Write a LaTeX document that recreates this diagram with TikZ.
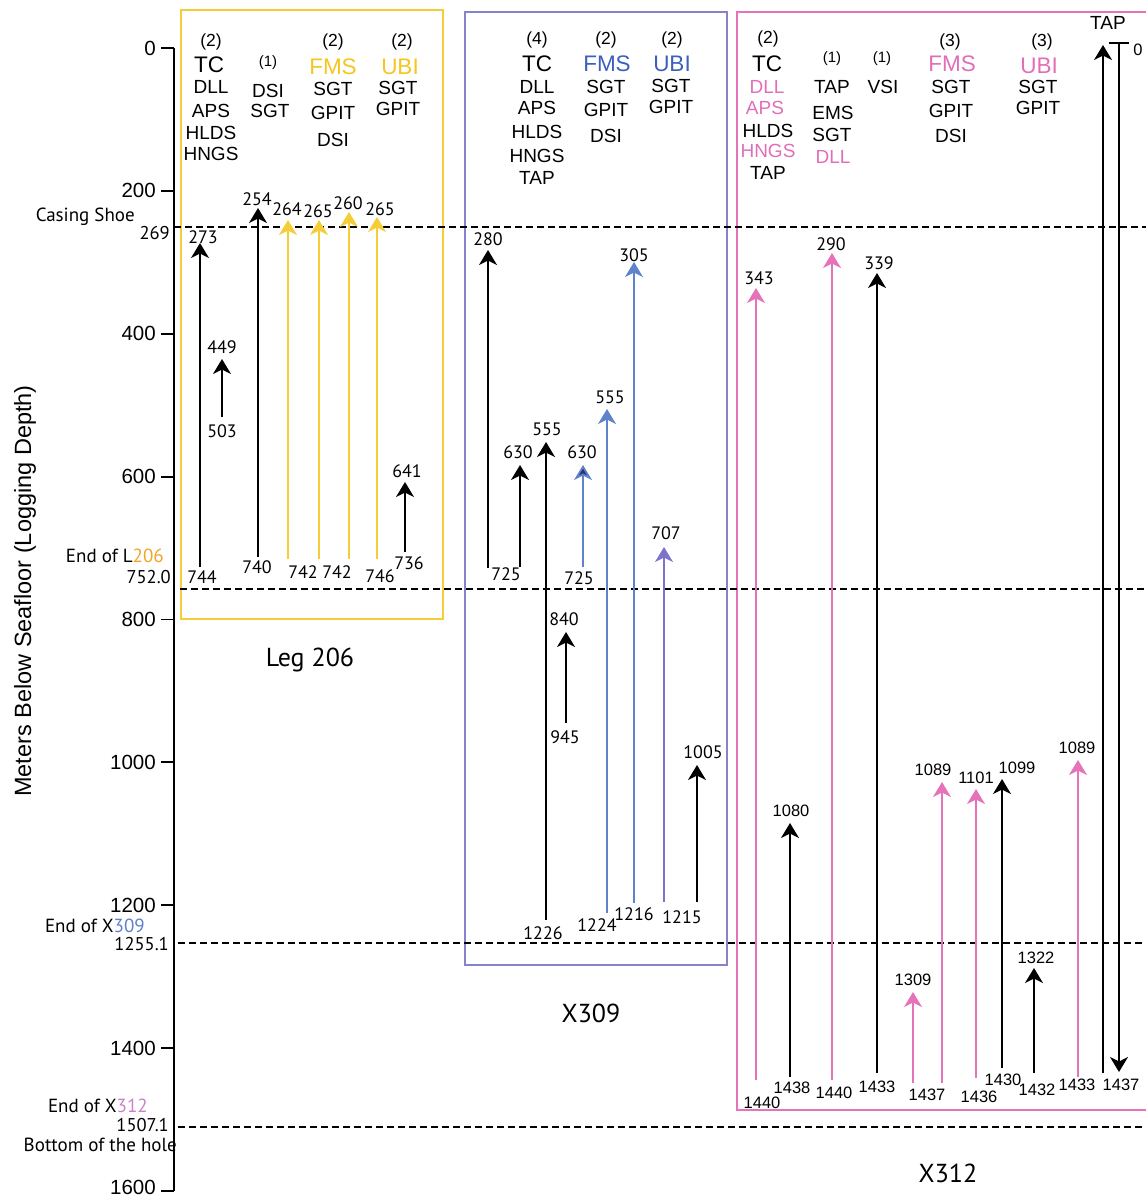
\documentclass[tikz,border=0pt]{standalone}
\usepackage{fontspec}
\setmainfont{Liberation Sans}
\newfontfamily\myr{PT Sans}
\usetikzlibrary{arrows.meta}
\definecolor{goldtxt}{RGB}{245,198,30}
\definecolor{goldln}{RGB}{245,205,55}
\definecolor{orangetxt}{RGB}{240,165,40}
\definecolor{bluebox}{RGB}{135,130,205}
\definecolor{bluetxt}{RGB}{60,95,190}
\definecolor{blueln}{RGB}{95,130,205}
\definecolor{bluedark}{RGB}{45,50,110}
\definecolor{purpln}{RGB}{125,115,205}
\definecolor{pinkln}{RGB}{230,115,185}
\definecolor{pinktxt}{RGB}{225,110,185}
\definecolor{purptxt}{RGB}{200,130,200}
\newcommand\UA[5]{\coordinate (#1b) at (#3,#4);\coordinate (#1t) at (#3,#5);\draw[arr,#2] (#1b) -- (#1t);}
\begin{document}
\begin{tikzpicture}[x=1pt,y=-1pt,
  arr/.style={line width=1.8pt,-{Stealth[length=15pt,width=18pt,inset=4.5pt]}},
  blk/.style={draw=black},
  yel/.style={draw=goldln},
  blu/.style={draw=blueln},
  pur/.style={draw=purpln},
  pnk/.style={draw=pinkln},
  tk/.style={inner sep=0pt,anchor=east,font=\fontsize{20.5}{22}\selectfont},
  hdr/.style={inner sep=0pt,font=\fontsize{22.5}{24}\selectfont},
  tl/.style={inner sep=0pt,font=\fontsize{19}{20}\selectfont},
  cnt/.style={inner sep=0pt,font=\fontsize{17.5}{20}\selectfont},
  cnts/.style={inner sep=0pt,font=\fontsize{15}{18}\selectfont},
  num/.style={inner sep=0pt,font=\myr\fontsize{18}{20}\selectfont},
  numh/.style={inner sep=0pt,font=\fontsize{16.5}{18}\selectfont},
  side/.style={inner sep=0pt,anchor=east,font=\myr\fontsize{19}{21}\selectfont},
  sidenum/.style={inner sep=0pt,anchor=east,font=\myr\fontsize{18.5}{21}\selectfont},
  boxlbl/.style={inner sep=0pt,font=\myr\fontsize{26}{28}\selectfont},
  dsh/.style={line width=1.6pt,dash pattern=on 6.5pt off 4.5pt},
  boxln/.style={line width=1.8pt}]
\useasboundingbox (0,0) rectangle (1146,1197);
\clip (0,0) rectangle (1146,1197);

% boxes
\draw[boxln,goldln] (181,10) rectangle (443,619);
\draw[boxln,bluebox] (465,12) rectangle (727,965);
\draw[boxln,pinkln] (1152,12) -- (737,12) -- (737,1110) -- (1152,1110);

% axis
\coordinate (axtop) at (174,48);
\coordinate (axbot) at (174,1191);
\draw[line width=1.8pt] (axtop) -- (axbot);
\foreach \v [count=\i from 0] in {0,200,400,600,800,1000,1200,1400}{
  \pgfmathsetmacro\yy{48+142.875*\i}
  \draw[line width=1.8pt] (161,\yy) -- (174,\yy);
  \node[tk,name=tick\i] at (156,\yy) {\v};
}
\draw[line width=1.8pt] (161,1191) -- (174,1191);
\node[tk] (tick8) at (156,1187) {1600};
\node[inner sep=0pt,rotate=90,font=\fontsize{23.5}{26}\selectfont] (ylab) at (25,591) {Meters Below Seafloor (Logging Depth)};

% side labels
\node[side] (casing) at (135,217) {Casing Shoe};
\node[sidenum] (c269) at (170,233) {269};
\node[side] (endL) at (164,556) {End of L\textcolor{orangetxt}{206}};
\node[sidenum] (c752) at (171,577) {752.0};
\node[side] (endX309) at (145,926) {End of X\textcolor{bluetxt!80}{309}};
\node[sidenum] (c1255) at (169,944) {1255.1};
\node[side] (endX312) at (148,1106) {End of X\textcolor{purptxt}{312}};
\node[sidenum] (c1507) at (169,1125) {1507.1};
\node[side] (bottom) at (177,1145) {Bottom of the hole};

% dashed lines
\coordinate (d1a) at (174,227); \coordinate (d1b) at (1146,227);
\coordinate (d2a) at (180,589); \coordinate (d2b) at (1146,589);
\coordinate (d3a) at (178,943); \coordinate (d3b) at (1146,943);
\coordinate (d4a) at (178,1127); \coordinate (d4b) at (1146,1127);
\draw[dsh] (d1a) -- (d1b);
\draw[dsh] (d2a) -- (d2b);
\draw[dsh] (d3a) -- (d3b);
\draw[dsh] (d4a) -- (d4b);

% box labels
\node[boxlbl] (leg206) at (310,660) {Leg 206};
\node[boxlbl] (x309) at (591,1013) {X309};
\node[boxlbl] (x312) at (948,1173) {X312};

% ---------- Leg 206 headers
\node[cnt] (l1c) at (211,42) {(2)};
\node[hdr] (l1h) at (209,65) {TC};
\foreach \t/\y [count=\i] in {DLL/87,APS/111,HLDS/133,HNGS/154}
  \node[tl,name=l1t\i] at (211,\y) {\t};
\node[cnts] (l2c) at (268,63) {(1)};
\node[tl] (l2t1) at (268,91) {DSI};
\node[tl] (l2t2) at (270,111) {SGT};
\node[cnt] (l3c) at (333,42) {(2)};
\node[hdr,text=goldtxt] (l3h) at (333,67) {FMS};
\foreach \t/\y [count=\i] in {SGT/89,GPIT/113,DSI/140}
  \node[tl,name=l3t\i] at (333,\y) {\t};
\node[cnt] (l4c) at (402,42) {(2)};
\node[hdr,text=goldtxt] (l4h) at (400,67) {UBI};
\foreach \t/\y [count=\i] in {SGT/88,GPIT/109}
  \node[tl,name=l4t\i] at (398,\y) {\t};

% ---------- Leg 206 arrows
\UA{a1}{blk}{200}{567}{243}
\node[num] (a1top) at (203,237) {273};
\node[num] (a1bot) at (202,577) {744};
\UA{a2}{blk}{222}{417}{359}
\node[num] (a2top) at (222,347) {449};
\node[num] (a2bot) at (222,431) {503};
\UA{a3}{blk}{258}{557}{208}
\node[num] (a3top) at (257,199) {254};
\node[num] (a3bot) at (257,567) {740};
\UA{a4}{yel}{288}{559}{220}
\node[num] (a4top) at (287,209) {264};
\node[num] (a4bot) at (303,572) {742};
\UA{a5}{yel}{319}{559}{220}
\node[num] (a5top) at (318,211) {265};
\node[num] (a5bot) at (337,572) {742};
\UA{a6}{yel}{349}{559}{212}
\node[num] (a6top) at (348,203) {260};
\UA{a7}{yel}{377}{559}{217}
\node[num] (a7top) at (380,209) {265};
\node[num] (a7bot) at (380,576) {746};
\UA{a8}{blk}{405}{552}{482}
\node[num] (a8top) at (407,471) {641};
\node[num] (a8bot) at (409,563) {736};

% ---------- X309 headers
\node[cnt] (m1c) at (537,40) {(4)};
\node[hdr] (m1h) at (537,64) {TC};
\foreach \t/\y [count=\i] in {DLL/87,APS/108,HLDS/132,HNGS/156,TAP/178}
  \node[tl,name=m1t\i] at (537,\y) {\t};
\node[cnt] (m2c) at (606,40) {(2)};
\node[hdr,text=bluetxt] (m2h) at (607,64) {FMS};
\foreach \t/\y [count=\i] in {SGT/87,GPIT/110,DSI/136}
  \node[tl,name=m2t\i] at (606,\y) {\t};
\node[cnt] (m3c) at (672,40) {(2)};
\node[hdr,text=bluetxt] (m3h) at (672,64) {UBI};
\foreach \t/\y [count=\i] in {SGT/86,GPIT/107}
  \node[tl,name=m3t\i] at (671,\y) {\t};

% ---------- X309 arrows
\UA{b1}{blk}{488}{568}{250}
\node[num] (b1top) at (488,239) {280};
\node[num] (b1bot) at (506,574) {725};
\UA{b2}{blk}{520}{567}{465}
\node[num] (b2top) at (518,452) {630};
\UA{b3}{blk}{546}{920}{442}
\node[num] (b3top) at (547,429) {555};
\node[num] (b3bot) at (543,933) {1226};
\UA{b9}{blk}{566}{723}{632}
\node[num] (b9top) at (564,619) {840};
\node[num] (b9bot) at (565,737) {945};
\coordinate (b4b) at (583,567); \coordinate (b4t) at (583,465);
\draw[line width=1.8pt,draw=blueln,-{Stealth[length=15pt,width=18pt,inset=4.5pt,fill=bluedark]}] (b4b) -- (b4t);
\node[num] (b4top) at (582,452) {630};
\node[num] (b4bot) at (579,578) {725};
\UA{b5}{blu}{607}{913}{409}
\node[num] (b5top) at (610,397) {555};
\node[num] (b5bot) at (597,925) {1224};
\UA{b6}{blu}{634}{903}{262}
\node[num] (b6top) at (634,255) {305};
\node[num] (b6bot) at (634,914) {1216};
\UA{b7}{pur}{664}{902}{547}
\node[num] (b7top) at (666,533) {707};
\node[num] (b7bot) at (682,917) {1215};
\UA{b8}{blk}{697}{902}{765}
\node[num] (b8top) at (703,752) {1005};

% ---------- X312 headers
\node[cnt] (n1c) at (768,39) {(2)};
\node[hdr] (n1h) at (767,64) {TC};
\node[tl,text=pinktxt] (n1t1) at (767,87) {DLL};
\node[tl,text=pinktxt] (n1t2) at (765,108) {APS};
\node[tl] (n1t3) at (768,131) {HLDS};
\node[tl,text=pinktxt] (n1t4) at (768,151) {HNGS};
\node[tl] (n1t5) at (768,173) {TAP};
\node[cnts] (n2c) at (832,59) {(1)};
\node[tl] (n2t1) at (832,87) {TAP};
\node[tl] (n2t2) at (833,113) {EMS};
\node[tl] (n2t3) at (832,135) {SGT};
\node[tl,text=pinktxt] (n2t4) at (833,157) {DLL};
\node[cnts] (n3c) at (882,59) {(1)};
\node[tl] (n3t1) at (883,87) {VSI};
\node[cnt] (n4c) at (950,42) {(3)};
\node[hdr,text=pinktxt] (n4h) at (952,64) {FMS};
\foreach \t/\y [count=\i] in {SGT/87,GPIT/111,DSI/136}
  \node[tl,name=n4t\i] at (951,\y) {\t};
\node[cnt] (n5c) at (1042,42) {(3)};
\node[hdr,text=pinktxt] (n5h) at (1039,66) {UBI};
\foreach \t/\y [count=\i] in {SGT/87,GPIT/108}
  \node[tl,name=n5t\i] at (1038,\y) {\t};
\node[tl] (taplbl) at (1108,23) {TAP};

% ---------- X312 arrows
\UA{c1}{pnk}{756}{1080}{288}
\node[num] (c1top) at (759,278) {343};
\node[numh] (c1bot) at (762,1103) {1440};
\UA{c2}{blk}{790}{1077}{823}
\node[numh] (c2top) at (791,811) {1080};
\node[numh] (c2bot) at (792,1088) {1438};
\UA{c3}{pnk}{832}{1080}{253}
\node[num] (c3top) at (831,244) {290};
\node[numh] (c3bot) at (834,1093) {1440};
\UA{c4}{blk}{877}{1073}{273}
\node[num] (c4top) at (879,263) {339};
\node[numh] (c4bot) at (877,1087) {1433};
\UA{c5}{pnk}{913}{1083}{992}
\node[numh] (c5top) at (913,980) {1309};
\node[numh] (c5bot) at (927,1095) {1437};
\UA{c6}{pnk}{942}{1083}{782}
\node[numh] (c6top) at (933,770) {1089};
\UA{c7}{pnk}{976}{1078}{789}
\node[numh] (c7top) at (976,778) {1101};
\node[numh] (c7bot) at (979,1097) {1436};
\UA{c8}{blk}{1002}{1068}{779}
\node[numh] (c8top) at (1017,768) {1099};
\node[numh] (c8bot) at (1003,1080) {1430};
\UA{c9}{blk}{1034}{1073}{968}
\node[numh] (c9top) at (1036,958) {1322};
\node[numh] (c9bot) at (1037,1090) {1432};
\UA{c10}{pnk}{1078}{1077}{760}
\node[numh] (c10top) at (1077,748) {1089};
\node[numh] (c10bot) at (1077,1085) {1433};
\UA{c11}{blk}{1103}{1073}{45}
\coordinate (c12t) at (1119,43); \coordinate (c12b) at (1119,1072);
\draw[arr,blk] (c12t) -- (c12b);
\coordinate (barL) at (1109,43); \coordinate (barR) at (1129,43);
\draw[line width=1.8pt] (barL) -- (barR);
\node[numh] (c12bot) at (1121,1085) {1437};
\node[numh] (c12top) at (1138,50) {0};
\end{tikzpicture}
\end{document}
